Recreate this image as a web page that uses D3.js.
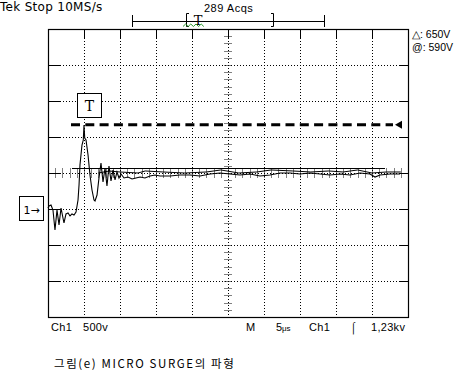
<!DOCTYPE html>
<html>
<head>
<meta charset="utf-8">
<script src="https://cdn.jsdelivr.net/npm/d3@7"></script>
<style>
  body { margin: 0; background: #fff; }
  svg { display: block; }
  text { font-family: "Liberation Sans", Arial, sans-serif; fill: #000; }
</style>
</head>
<body>
<div id="main"></div>
<script>
// scope settings
let timePerDiv = 5      // us
let voltPerDiv = 500    // V
let hDivs = 10, vDivs = 8
let groundDiv = -1      // ch1 ground marker, divisions from centre
let triggerLevel = 1170 // V (dashed line)
let cursorLevel = 570   // V (solid cursor line)

// ch1 trace: time (us) and voltage (V)
let traceTime = [0, 0.14, 0.42, 0.69, 0.97, 1.25, 1.53, 1.81, 2.08, 2.22, 2.5, 2.78, 3.06, 3.33, 3.61, 3.89,
  4.17, 4.31, 4.44, 4.72, 4.9, 5.0, 5.1, 5.28, 5.56, 5.83, 6.11, 6.39, 6.53, 6.81, 7.08, 7.36, 7.64, 7.92,
  8.19, 8.47, 8.75, 9.03, 9.31, 9.58, 9.86, 10.14, 10.56, 11.11, 11.67, 12.22, 12.78, 13.47, 14.17, 14.86,
  15.56, 16.94, 18.33, 19.72, 21.11, 22.5, 23.89, 25.28, 26.67, 28.06, 29.44, 30.83, 32.22, 33.61, 35,
  36.39, 37.78, 39.17, 40.56, 41.94, 43.33, 44.72, 45.42, 46.11, 47.5, 48.89]
let traceVolt = [14, 42, 56, -14, -292, -14, -222, 14, -125, -194, -69, -56, -97, -69, -83, -42,
  125, 333, 611, 889, 958, 1167, 986, 958, 750, 472, 264, 125, 111, 194, 431, 639, 375, 569,
  319, 597, 389, 542, 403, 514, 431, 486, 431, 444, 417, 431, 444, 431, 458, 472,
  458, 458, 472, 472, 458, 486, 500, 486, 472, 486, 458, 472, 500, 500, 486,
  500, 486, 472, 486, 472, 500, 486, 444, 472, 486, 486]

// persistence copy of the trace
let ghostTime = [7.0, 8.5, 10.0, 12.5, 13.5, 16.0, 19.0, 22.0, 24.0, 26.5, 29.0, 31.0, 34.0, 36.5, 39.0, 41.0, 43.0, 45.0, 47.0, 49.0]
let ghostVolt = [500, 528, 514, 500, 528, 514, 500, 514, 542, 500, 514, 542, 528, 514, 528, 514, 542, 500, 514, 514]

// cursor read-outs and footer
let cursorLabels = ["\u25B3: 650V", "@: 590V"]
let footerLabels = [
  {t: "Ch1", x: 51}, {t: "500v", x: 83}, {t: "M", x: 246}, {t: "5", x: 276},
  {t: "Ch1", x: 309}, {t: "\u2320", x: 350}, {t: "1,23kv", x: 371}
]

let W = 473, H = 371
let margin = {left: 48, top: 29}
let gw = 360, gh = 288

let svg = d3.select("#main").append("svg")
  .attr("width", W).attr("height", H)

let x = d3.scaleLinear().domain([0, hDivs * timePerDiv]).range([margin.left, margin.left + gw])
let y = d3.scaleLinear().domain([-vDivs / 2 * voltPerDiv, vDivs / 2 * voltPerDiv]).range([margin.top + gh, margin.top])
// trace voltage is relative to ground marker
let yv = v => y(v + groundDiv * voltPerDiv)

let xDiv = d3.range(1, hDivs).map(i => i * timePerDiv)
let yDiv = d3.range(-vDivs / 2 + 1, vDivs / 2).map(i => i * voltPerDiv)

let grid = svg.append("g").attr("stroke", "#000").attr("stroke-width", 1)

// dotted grid
grid.selectAll(".vg").data(xDiv).enter().append("line")
  .attr("x1", d => Math.round(x(d)) + 0.5).attr("x2", d => Math.round(x(d)) + 0.5)
  .attr("y1", margin.top).attr("y2", margin.top + gh)
  .attr("stroke-dasharray", "1,2")
grid.selectAll(".hg").data(yDiv).enter().append("line")
  .attr("y1", d => Math.round(y(d)) + 0.5).attr("y2", d => Math.round(y(d)) + 0.5)
  .attr("x1", margin.left).attr("x2", margin.left + gw)
  .attr("stroke-dasharray", "1,2")

// solid major ticks on the frame
grid.selectAll(".vt").data(xDiv).enter().append("line")
  .attr("x1", d => Math.round(x(d)) + 0.5).attr("x2", d => Math.round(x(d)) + 0.5)
  .attr("y1", margin.top).attr("y2", margin.top + 9)
grid.selectAll(".ht").data(yDiv).enter().append("line")
  .attr("y1", d => Math.round(y(d)) + 0.5).attr("y2", d => Math.round(y(d)) + 0.5)
  .attr("x1", margin.left).attr("x2", margin.left + 12)
grid.selectAll(".ht2").data(yDiv).enter().append("line")
  .attr("y1", d => Math.round(y(d)) + 0.5).attr("y2", d => Math.round(y(d)) + 0.5)
  .attr("x1", margin.left + gw - 8).attr("x2", margin.left + gw)

// minor ticks on the centre cross
let cx = Math.round(x(hDivs / 2 * timePerDiv)) + 0.5
let cy = Math.round(y(0)) + 0.5
let minorX = d3.range(0, hDivs * 5 + 1).map(i => i * timePerDiv / 5)
let minorY = d3.range(-vDivs / 2 * 5, vDivs / 2 * 5 + 1).map(i => i * voltPerDiv / 5)
grid.selectAll(".mx").data(minorX).enter().append("line")
  .attr("x1", d => Math.round(x(d)) + 0.5).attr("x2", d => Math.round(x(d)) + 0.5)
  .attr("y1", cy - 5).attr("y2", cy + 5)
  .attr("stroke-dasharray", "1,1")
grid.selectAll(".my").data(minorY).enter().append("line")
  .attr("y1", d => Math.round(y(d)) + 0.5).attr("y2", d => Math.round(y(d)) + 0.5)
  .attr("x1", cx - 4).attr("x2", cx + 4)
  .attr("stroke-dasharray", "1,1")

// frame
svg.append("rect")
  .attr("x", margin.left + 0.5).attr("y", margin.top + 0.5)
  .attr("width", gw).attr("height", gh)
  .attr("fill", "none").attr("stroke", "#000").attr("stroke-width", 1.2)

// cursor line
svg.append("line")
  .attr("x1", 72).attr("x2", 385)
  .attr("y1", Math.round(yv(cursorLevel)) + 0.5).attr("y2", Math.round(yv(cursorLevel)) + 0.5)
  .attr("stroke", "#000").attr("stroke-width", 1)

// trigger level dashed line + arrow
let ty = yv(triggerLevel)
svg.append("line")
  .attr("x1", 71).attr("x2", 393).attr("y1", ty).attr("y2", ty)
  .attr("stroke", "#000").attr("stroke-width", 3).attr("stroke-dasharray", "9,5.3")
svg.append("path")
  .attr("d", `M395,${ty} L402,${ty - 4} L402,${ty + 4} Z`)
  .attr("fill", "#000")

// traces
let line = d3.line().x(d => x(d[0])).y(d => yv(d[1]))
svg.append("path")
  .datum(d3.zip(ghostTime, ghostVolt))
  .attr("d", line).attr("fill", "none").attr("stroke", "#000").attr("stroke-width", 1)
svg.append("path")
  .datum(d3.zip(traceTime, traceVolt))
  .attr("d", line).attr("fill", "none").attr("stroke", "#000").attr("stroke-width", 1.1)

// T box (trigger position)
svg.append("rect").attr("x", 77.5).attr("y", 93.5).attr("width", 24).attr("height", 24)
  .attr("fill", "#fff").attr("stroke", "#000")
svg.append("text").attr("x", 89.5).attr("y", 111).attr("text-anchor", "middle")
  .style("font-family", "DejaVu Serif, serif").style("font-size", "14px").text("T")

// channel 1 ground marker
let gy = Math.round(yv(0))
svg.append("rect").attr("x", 19.5).attr("y", gy - 12.5).attr("width", 24).attr("height", 24)
  .attr("fill", "#fff").attr("stroke", "#000")
svg.append("text").attr("x", 31.5).attr("y", gy + 4.5).attr("text-anchor", "middle")
  .style("font-family", "DejaVu Sans, sans-serif").style("font-size", "11px").text("1\u2192")

// header
svg.append("text").attr("x", 0).attr("y", 11)
  .style("font-family", "DejaVu Sans, sans-serif")
  .style("font-size", "12px").style("letter-spacing", "0.3px").text("Tek Stop 10MS/s")
svg.append("text").attr("x", 204).attr("y", 12)
  .style("font-size", "11px").style("letter-spacing", "0.5px").text("289 Acqs")

// record bar
let bar = svg.append("g").attr("stroke", "#000").attr("fill", "none")
bar.append("line").attr("x1", 132).attr("x2", 324).attr("y1", 21.5).attr("y2", 21.5)
bar.append("line").attr("x1", 132.5).attr("x2", 132.5).attr("y1", 15).attr("y2", 27)
bar.append("line").attr("x1", 324.5).attr("x2", 324.5).attr("y1", 15).attr("y2", 27)
bar.append("path").attr("d", "M189,13.5 H186.5 V26.5 H189")
bar.append("path").attr("d", "M271,13.5 H273.5 V26.5 H271")
svg.append("text").attr("x", 198).attr("y", 25).attr("text-anchor", "middle")
  .style("font-family", "DejaVu Serif, serif").style("font-size", "13px").text("T")
let zig = d3.range(0, 9).map(i => [183 + i * 2.6, i % 2 ? 24 : 26.5])
svg.append("path").attr("d", d3.line()(zig))
  .attr("fill", "none").attr("stroke", "#2a9a2a").attr("stroke-width", 1)

// cursor readouts
svg.selectAll(".cur").data(cursorLabels).enter().append("text")
  .attr("x", 412).attr("y", (d, i) => 38 + i * 13)
  .style("font-size", "10.5px").text(d => d)

// footer
svg.selectAll(".ft").data(footerLabels).enter().append("text")
  .attr("x", d => d.x).attr("y", 331)
  .style("font-size", "11px").style("letter-spacing", "0.3px").text(d => d.t)
svg.append("text").attr("x", 282).attr("y", 331)
  .style("font-size", "8px").text("\u03BCs")

// caption
svg.append("text").attr("x", 54).attr("y", 368)
  .style("font-family", "Noto Sans CJK KR, sans-serif").style("font-size", "11.5px")
  .style("letter-spacing", "1.6px").text("그림(e) MICRO SURGE의 파형")
</script>
</body>
</html>
